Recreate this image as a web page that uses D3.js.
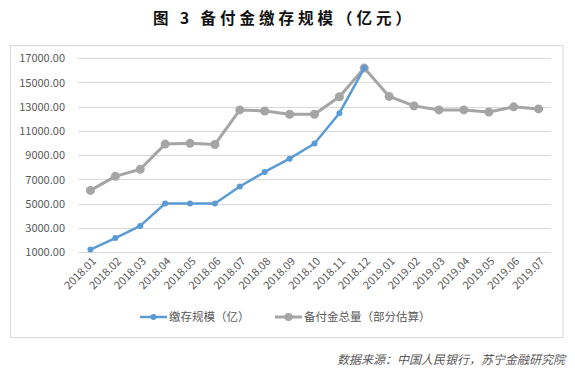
<!DOCTYPE html>
<html><head><meta charset="utf-8">
<script src="https://cdn.jsdelivr.net/npm/d3@7"></script>
<style>body{margin:0;background:#fff}svg{display:block}</style>
</head><body>
<script>
const categories = ["2018.01","2018.02","2018.03","2018.04","2018.05","2018.06","2018.07","2018.08","2018.09","2018.10","2018.11","2018.12","2019.01","2019.02","2019.03","2019.04","2019.05","2019.06","2019.07"];
const depositScale = [1200,2150,3150,5000,5000,5000,6400,7600,8700,9950,12450,16170,null,null,null,null,null,null,null];
const totalReserve = [6080,7240,7820,9900,9960,9870,12720,12630,12360,12360,13800,16170,13830,13050,12720,12720,12550,12970,12800];
const yTicks = [1000,3000,5000,7000,9000,11000,13000,15000,17000];
const seriesNames = ["缴存规模（亿）","备付金总量（部分估算）"];
const title = "图 3  备付金缴存规模（亿元）";
const source = "数据来源：中国人民银行，苏宁金融研究院";

const W=575,H=369;
const svg=d3.select("body").append("svg").attr("width",W).attr("height",H);
const font="'Noto Sans CJK SC','Microsoft YaHei',sans-serif";

svg.append("text").attr("x",284).attr("y",24).attr("text-anchor","middle")
  .attr("font-family",font).attr("font-weight","bold").attr("font-size",15.5)
  .attr("letter-spacing","4px").attr("fill","#111").text(title);

svg.append("rect").attr("x",10.5).attr("y",45.5).attr("width",552.5).attr("height",292)
  .attr("fill","none").attr("stroke","#D9D9D9");

const x=d3.scalePoint().domain(categories).range([78,551]).padding(0.5);
const y=d3.scaleLinear().domain([1000,17000]).range([252,58]);

const grid=svg.append("g");
yTicks.forEach(t=>{
  grid.append("line").attr("x1",78).attr("x2",551).attr("y1",Math.round(y(t))+0.5).attr("y2",Math.round(y(t))+0.5)
    .attr("stroke","#D9D9D9").attr("stroke-width",1);
});
const yAxis=d3.axisLeft(y).tickValues(yTicks).tickSize(0).tickPadding(0).tickFormat(d=>d3.format(".2f")(d));
const ya=svg.append("g").attr("transform","translate(65,0)").call(yAxis);
ya.select(".domain").remove();
ya.selectAll("text").attr("font-family",font).attr("font-size",11).attr("fill","#595959").attr("dy","0.35em");

const xAxis=d3.axisBottom(x).tickSize(0).tickPadding(0);
const xa=svg.append("g").attr("transform","translate(0,258)").call(xAxis);
xa.select(".domain").remove();
xa.selectAll("text").attr("font-family",font).attr("font-size",11).attr("fill","#595959")
  .attr("text-anchor","end").attr("dy","0").attr("transform","translate(6,4) rotate(-45)");

const lineGen=d3.line().defined(d=>d[1]!=null).x(d=>x(d[0])).y(d=>y(d[1]));
const s2=categories.map((c,i)=>[c,totalReserve[i]]);
const s1=categories.map((c,i)=>[c,depositScale[i]]);

svg.append("path").datum(s2).attr("d",lineGen).attr("fill","none").attr("stroke","#A5A5A5").attr("stroke-width",3).attr("stroke-linejoin","round");
svg.selectAll(".p2").data(s2).enter().append("circle").attr("cx",d=>x(d[0])).attr("cy",d=>y(d[1])).attr("r",4.5).attr("fill","#A5A5A5");

svg.append("path").datum(s1).attr("d",lineGen).attr("fill","none").attr("stroke","#5B9BD5").attr("stroke-width",2.5).attr("stroke-linejoin","round");
svg.selectAll(".p1").data(s1.filter(d=>d[1]!=null)).enter().append("circle").attr("cx",d=>x(d[0])).attr("cy",d=>y(d[1])).attr("r",3).attr("fill","#5B9BD5");

// legend
const lg=svg.append("g");
const items=[{x:140,c:"#5B9BD5",w:2.5,r:3,t:seriesNames[0]},{x:275,c:"#A5A5A5",w:3,r:4,t:seriesNames[1]}];
items.forEach(it=>{
  lg.append("line").attr("x1",it.x).attr("x2",it.x+27).attr("y1",317).attr("y2",317).attr("stroke",it.c).attr("stroke-width",it.w);
  lg.append("circle").attr("cx",it.x+13.5).attr("cy",317).attr("r",it.r).attr("fill",it.c);
  lg.append("text").attr("x",it.x+29).attr("y",317).attr("dy","0.35em").attr("font-family",font).attr("font-size",11.5).attr("fill","#595959").text(it.t);
});

svg.append("text").attr("x",565).attr("y",360).attr("dy","0.35em").attr("text-anchor","end")
  .attr("font-family",font).attr("font-size",12).attr("font-style","italic").attr("fill","#595959").text(source);
</script>
</body></html>
